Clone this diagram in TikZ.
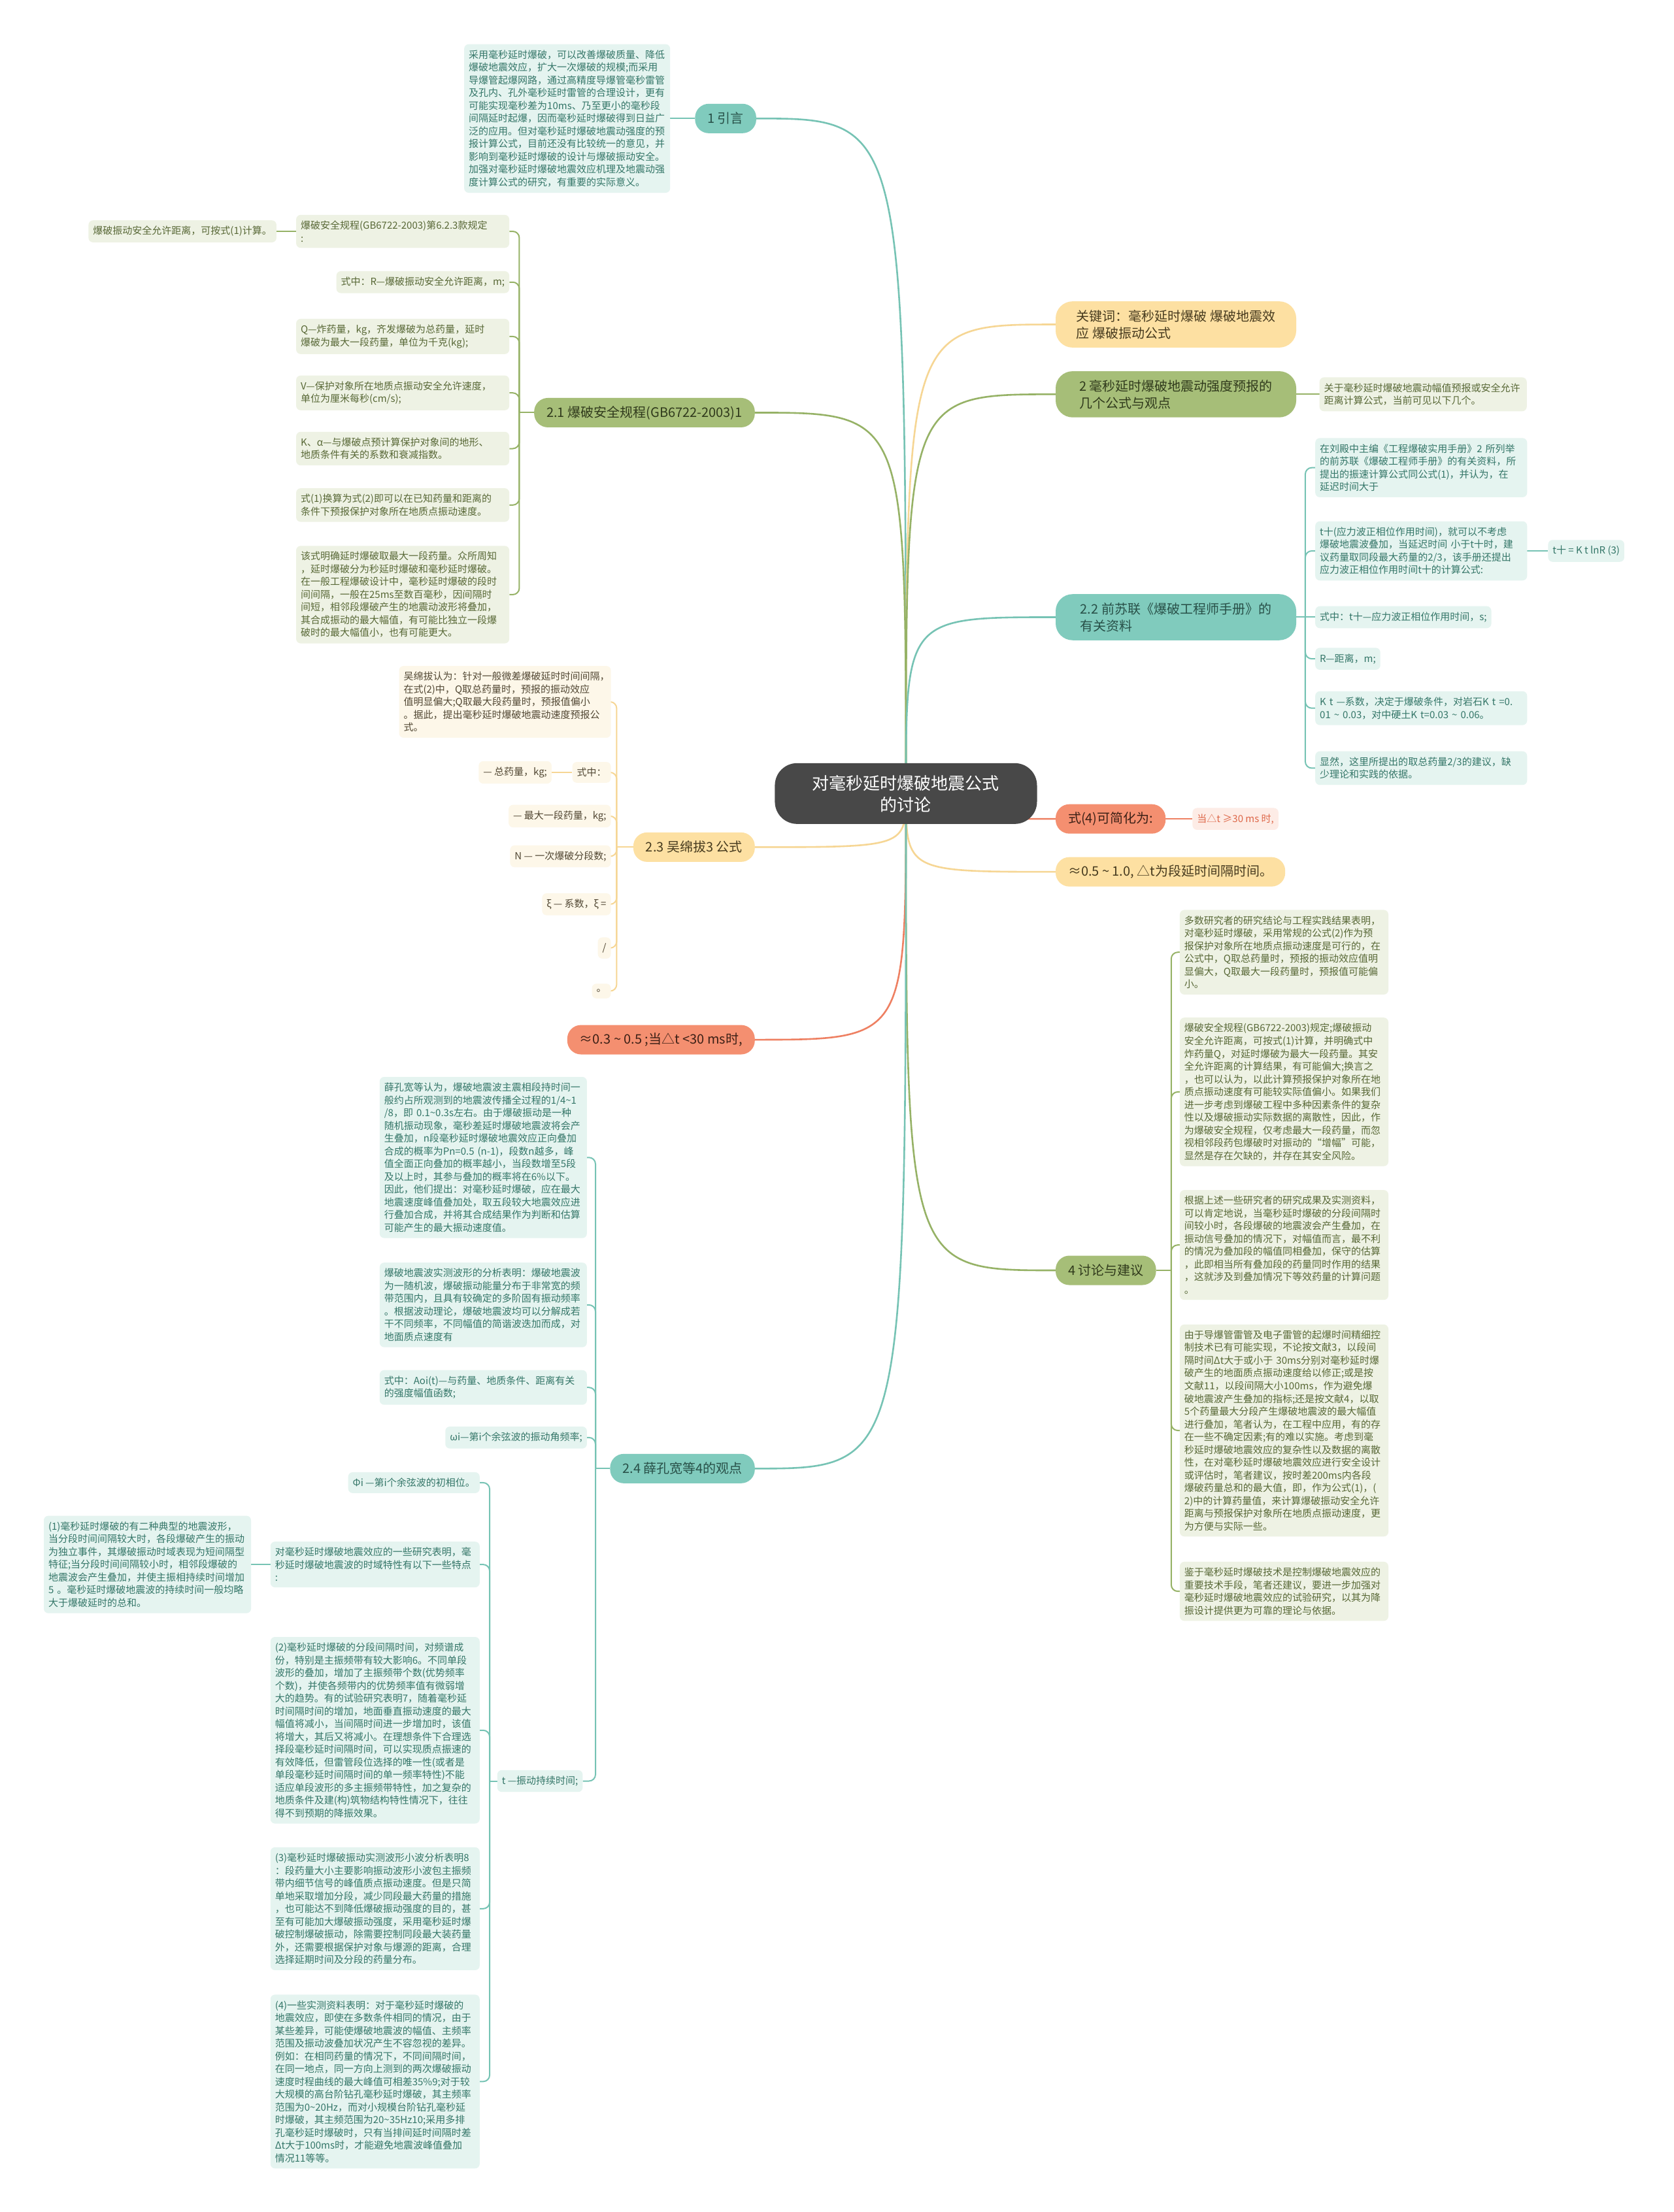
\documentclass[tikz,border=0pt]{standalone}
\usepackage{fontspec}
\setmainfont{Noto Sans CJK SC}
\usetikzlibrary{backgrounds}
\definecolor{ctrF}{RGB}{72,72,72}
\definecolor{tealF}{RGB}{128,203,189}
\definecolor{tealL}{RGB}{229,244,240}
\definecolor{tealLn}{RGB}{118,195,180}
\definecolor{tealT}{RGB}{40,80,72}
\definecolor{tealD}{RGB}{52,118,104}
\definecolor{oliveF}{RGB}{166,190,120}
\definecolor{oliveL}{RGB}{238,242,228}
\definecolor{oliveLn}{RGB}{150,178,102}
\definecolor{oliveT}{RGB}{48,58,28}
\definecolor{oliveD}{RGB}{88,104,54}
\definecolor{yelF}{RGB}{253,224,162}
\definecolor{yelL}{RGB}{253,247,233}
\definecolor{yelLn}{RGB}{246,214,148}
\definecolor{yelT}{RGB}{70,58,30}
\definecolor{yelD}{RGB}{82,72,52}
\definecolor{salF}{RGB}{244,143,112}
\definecolor{salL}{RGB}{253,236,230}
\definecolor{salLn}{RGB}{238,128,98}
\definecolor{salT}{RGB}{60,32,22}
\definecolor{salD}{RGB}{222,104,74}
\tikzset{
  ctr/.style={fill=ctrF, text=white, rounded corners=34pt, minimum width=401pt, minimum height=93pt, inner sep=0pt, font=\fontsize{26}{33}\selectfont, align=center},
  mn/.style={rounded corners=21pt, inner xsep=19pt, inner ysep=0pt, minimum height=45pt, font=\fontsize{20}{26}\selectfont, align=left},
  mntwo/.style={rounded corners=26pt, inner xsep=30pt, inner ysep=13pt, minimum width=368pt, font=\fontsize{20}{26}\selectfont, align=left},
  bx/.style={rounded corners=7pt, inner xsep=7pt, inner ysep=9pt, font=\fontsize{15}{19.5}\selectfont, align=left},
  tm/.style={fill=tealF, text=tealT},
  om/.style={fill=oliveF, text=oliveT},
  ym/.style={fill=yelF, text=yelT},
  sm/.style={fill=salF, text=salT},
  tb/.style={bx, fill=tealL, text=tealD},
  ob/.style={bx, fill=oliveL, text=oliveD},
  yb/.style={bx, fill=yelL, text=yelD},
  sb/.style={bx, fill=salL, text=salD},
  tw/.style={text width=#1},
  mline/.style={draw=#1, line width=2.6pt},
  sline/.style={draw=#1, line width=2pt, rounded corners=10pt},
}
\begin{document}
\begin{tikzpicture}[x=2.1585pt,y=-2.1585pt]
\useasboundingbox (0,0) rectangle (1186,1568);

% center
\node[ctr] (C) at (642,562.5) {对毫秒延时爆破地震公式\\的讨论};

% ===== right side =====
\node[mntwo, ym, anchor=west] (kw) at (748,230) {关键词：毫秒延时爆破 爆破地震效\\应 爆破振动公式};

\node[mntwo, om, anchor=west] (s2) at (748,279.5) {2 毫秒延时爆破地震动强度预报的\\几个公式与观点};
\node[ob, tw=303pt, anchor=west] (s2a) at (935,279.5) {关于毫秒延时爆破地震动幅值预报或安全允许\\距离计算公式，当前可见以下几个。};

\node[mntwo, tm, anchor=west] (s22) at (748,437.5) {2.2 前苏联《爆破工程师手册》的\\有关资料};
\node[tb, tw=310pt, anchor=west] (s22a) at (932,331.5) {在刘殿中主编《工程爆破实用手册》2 所列举\\的前苏联《爆破工程师手册》的有关资料，所\\提出的振速计算公式同公式(1)，并认为，在\\延迟时间大于};
\node[tb, tw=310pt, anchor=west] (s22b) at (932,390.5) {t十(应力波正相位作用时间)，就可以不考虑\\爆破地震波叠加，当延迟时间 小于t十时，建\\议药量取同段最大药量的2/3，该手册还提出\\应力波正相位作用时间t十的计算公式:};
\node[tb, anchor=west] (s22b1) at (1097,390.5) {t十 = K t lnR (3)};
\node[tb, anchor=west] (s22c) at (932,437.5) {式中：t十—应力波正相位作用时间，s;};
\node[tb, anchor=west] (s22d) at (932,467) {R—距离，m;};
\node[tb, tw=310pt, anchor=west] (s22e) at (932,502) {K t —系数，决定于爆破条件，对岩石K t =0.\\01 \textasciitilde{} 0.03，对中硬土K t=0.03 \textasciitilde{} 0.06。};
\node[tb, tw=310pt, anchor=west] (s22f) at (932,544.5) {显然，这里所提出的取总药量2/3的建议，缺\\少理论和实践的依据。};

\node[mn, sm, anchor=west] (f4) at (748,580.5) {式(4)可简化为:};
\node[sb, anchor=west] (f4a) at (845,580.5) {当△t ≥30 ms 时,};

\node[mn, ym, anchor=west] (ap) at (748,618) {≈0.5 \textasciitilde{} 1.0, △t为段延时间隔时间。};

\node[mn, om, anchor=west] (s4) at (748,900.5) {4 讨论与建议};
\node[ob, tw=305pt, anchor=west] (s4a) at (836,675) {多数研究者的研究结论与工程实践结果表明，\\对毫秒延时爆破，采用常规的公式(2)作为预\\报保护对象所在地质点振动速度是可行的，在\\公式中，Q取总药量时，预报的振动效应值明\\显偏大，Q取最大一段药量时，预报值可能偏\\小。};
\node[ob, tw=305pt, anchor=west] (s4b) at (836,774) {爆破安全规程(GB6722-2003)规定;爆破振动\\安全允许距离，可按式(1)计算，并明确式中\\炸药量Q，对延时爆破为最大一段药量。其安\\全允许距离的计算结果，有可能偏大;换言之\\，也可以认为，以此计算预报保护对象所在地\\质点振动速度有可能较实际值偏小。如果我们\\进一步考虑到爆破工程中多种因素条件的复杂\\性以及爆破振动实际数据的离散性，因此，作\\为爆破安全规程，仅考虑最大一段药量，而忽\\视相邻段药包爆破时对振动的“增幅”可能，\\显然是存在欠缺的，并存在其安全风险。};
\node[ob, tw=305pt, anchor=west] (s4c) at (836,882.5) {根据上述一些研究者的研究成果及实测资料，\\可以肯定地说，当毫秒延时爆破的分段间隔时\\间较小时，各段爆破的地震波会产生叠加，在\\振动信号叠加的情况下，对幅值而言，最不利\\的情况为叠加段的幅值同相叠加，保守的估算\\，此即相当所有叠加段的药量同时作用的结果\\，这就涉及到叠加情况下等效药量的计算问题\\。};
\node[ob, tw=305pt, anchor=west] (s4d) at (836,1014) {由于导爆管雷管及电子雷管的起爆时间精细控\\制技术已有可能实现，不论按文献3，以段间\\隔时间Δt大于或小于 30ms分别对毫秒延时爆\\破产生的地面质点振动速度给以修正;或是按\\文献11，以段间隔大小100ms，作为避免爆\\破地震波产生叠加的指标;还是按文献4，以取\\5个药量最大分段产生爆破地震波的最大幅值\\进行叠加，笔者认为，在工程中应用，有的存\\在一些不确定因素;有的难以实施。考虑到毫\\秒延时爆破地震效应的复杂性以及数据的离散\\性，在对毫秒延时爆破地震效应进行安全设计\\或评估时，笔者建议，按时差200ms内各段\\爆破药量总和的最大值，即，作为公式(1)，(\\2)中的计算药量值，来计算爆破振动安全允许\\距离与预报保护对象所在地质点振动速度，更\\为方便与实际一些。};
\node[ob, tw=305pt, anchor=west] (s4e) at (836,1128) {鉴于毫秒延时爆破技术是控制爆破地震效应的\\重要技术手段，笔者还建议，要进一步加强对\\毫秒延时爆破地震效应的试验研究，以其为降\\振设计提供更为可靠的理论与依据。};

% ===== left side =====
\node[mn, tm, anchor=east] (s1) at (536,84) {1 引言};
\node[tb, tw=301pt, anchor=east] (s1a) at (475,84) {采用毫秒延时爆破，可以改善爆破质量、降低\\爆破地震效应，扩大一次爆破的规模;而采用\\导爆管起爆网路，通过高精度导爆管毫秒雷管\\及孔内、孔外毫秒延时雷管的合理设计，更有\\可能实现毫秒差为10ms、乃至更小的毫秒段\\间隔延时起爆，因而毫秒延时爆破得到日益广\\泛的应用。但对毫秒延时爆破地震动强度的预\\报计算公式，目前还没有比较统一的意见，并\\影响到毫秒延时爆破的设计与爆破振动安全。\\加强对毫秒延时爆破地震效应机理及地震动强\\度计算公式的研究，有重要的实际意义。};

\node[mn, om, anchor=east] (s21) at (535,292.5) {2.1 爆破安全规程(GB6722-2003)1};
\node[ob, tw=312pt, anchor=east] (s21a) at (361,164) {爆破安全规程(GB6722-2003)第6.2.3款规定\\:};
\node[ob, anchor=east] (s21a1) at (196,164) {爆破振动安全允许距离，可按式(1)计算。};
\node[ob, anchor=east] (s21b) at (361,200) {式中：R—爆破振动安全允许距离，m;};
\node[ob, tw=312pt, anchor=east] (s21c) at (361,238.5) {Q—炸药量，kg，齐发爆破为总药量，延时\\爆破为最大一段药量，单位为千克(kg);};
\node[ob, tw=312pt, anchor=east] (s21d) at (361,278.5) {V—保护对象所在地质点振动安全允许速度，\\单位为厘米每秒(cm/s);};
\node[ob, tw=312pt, anchor=east] (s21e) at (361,318) {K、α—与爆破点预计算保护对象间的地形、\\地质条件有关的系数和衰减指数。};
\node[ob, tw=312pt, anchor=east] (s21f) at (361,358) {式(1)换算为式(2)即可以在已知药量和距离的\\条件下预报保护对象所在地质点振动速度。};
\node[ob, tw=312pt, anchor=east] (s21g) at (361,421.5) {该式明确延时爆破取最大一段药量。众所周知\\，延时爆破分为秒延时爆破和毫秒延时爆破。\\在一般工程爆破设计中，毫秒延时爆破的段时\\间间隔，一般在25ms至数百毫秒，因间隔时\\间短，相邻段爆破产生的地震动波形将叠加，\\其合成振动的最大幅值，有可能比独立一段爆\\破时的最大幅值小，也有可能更大。};

\node[mn, ym, anchor=east] (s23) at (535,600.5) {2.3 吴绵拔3 公式};
\node[yb, tw=310pt, anchor=east] (s23a) at (433,497.5) {吴绵拔认为：针对一般微差爆破延时时间间隔，\\在式(2)中，Q取总药量时，预报的振动效应\\值明显偏大;Q取最大段药量时，预报值偏小\\。据此，提出毫秒延时爆破地震动速度预报公\\式。};
\node[yb, anchor=east] (s23b) at (433,547.5) {式中：};
\node[yb, anchor=east] (s23b1) at (391,547.5) {— 总药量，kg;};
\node[yb, anchor=east] (s23c) at (433,578.5) {— 最大一段药量，kg;};
\node[yb, anchor=east] (s23d) at (433,607) {N — 一次爆破分段数;};
\node[yb, anchor=east] (s23e) at (433,641) {ξ — 系数，ξ =};
\node[yb, anchor=east] (s23f) at (433,672) {/};
\node[yb, anchor=east] (s23g) at (433,702.5) {。};

\node[mn, sm, anchor=east] (s03) at (535,737) {≈0.3 \textasciitilde{} 0.5 ;当△t <30 ms时,};

\node[mn, tm, anchor=east] (s24) at (535,1041) {2.4 薛孔宽等4的观点};
\node[tb, tw=303pt, anchor=east] (s24a) at (416,820.5) {薛孔宽等认为，爆破地震波主震相段持时间一\\般约占所观测到的地震波传播全过程的1/4\textasciitilde{}1\\/8，即 0.1\textasciitilde{}0.3s左右。由于爆破振动是一种\\随机振动现象，毫秒差延时爆破地震波将会产\\生叠加，n段毫秒延时爆破地震效应正向叠加\\合成的概率为Pn=0.5 (n-1)，段数n越多，峰\\值全面正向叠加的概率越小，当段数增至5段\\及以上时，其参与叠加的概率将在6\%以下。\\因此，他们提出：对毫秒延时爆破，应在最大\\地震速度峰值叠加处，取五段较大地震效应进\\行叠加合成，并将其合成结果作为判断和估算\\可能产生的最大振动速度值。};
\node[tb, tw=303pt, anchor=east] (s24b) at (416,925) {爆破地震波实测波形的分析表明：爆破地震波\\为一随机波，爆破振动能量分布于非常宽的频\\带范围内，且具有较确定的多阶固有振动频率\\。根据波动理论，爆破地震波均可以分解成若\\干不同频率，不同幅值的简谐波迭加而成，对\\地面质点速度有};
\node[tb, tw=303pt, anchor=east] (s24c) at (416,983.5) {式中：Aoi(t)—与药量、地质条件、距离有关\\的强度幅值函数;};
\node[tb, anchor=east] (s24d) at (416,1019) {ωi—第i个余弦波的振动角频率;};
\node[tb, anchor=east] (s24t) at (413,1262.5) {t —振动持续时间;};

\node[tb, anchor=east] (t1) at (340,1051) {Φi —第i个余弦波的初相位。};
\node[tb, tw=306pt, anchor=east] (t2) at (340,1109) {对毫秒延时爆破地震效应的一些研究表明，毫\\秒延时爆破地震波的时域特性有以下一些特点\\:};
\node[tb, tw=303pt, anchor=east] (t2a) at (178,1109) {(1)毫秒延时爆破的有二种典型的地震波形，\\当分段时间间隔较大时，各段爆破产生的振动\\为独立事件，其爆破振动时域表现为短间隔型\\特征;当分段时间间隔较小时，相邻段爆破的\\地震波会产生叠加，并使主振相持续时间增加\\5 。毫秒延时爆破地震波的持续时间一般均略\\大于爆破延时的总和。};
\node[tb, tw=306pt, anchor=east] (t3) at (340,1226.5) {(2)毫秒延时爆破的分段间隔时间，对频谱成\\份，特别是主振频带有较大影响6。不同单段\\波形的叠加，增加了主振频带个数(优势频率\\个数)，并使各频带内的优势频率值有微弱增\\大的趋势。有的试验研究表明7，随着毫秒延\\时间隔时间的增加，地面垂直振动速度的最大\\幅值将减小，当间隔时间进一步增加时，该值\\将增大，其后又将减小。在理想条件下合理选\\择段毫秒延时间隔时间，可以实现质点振速的\\有效降低，但雷管段位选择的唯一性(或者是\\单段毫秒延时间隔时间的单一频率特性)不能\\适应单段波形的多主振频带特性，加之复杂的\\地质条件及建(构)筑物结构特性情况下，往往\\得不到预期的降振效果。};
\node[tb, tw=306pt, anchor=east] (t4) at (340,1353) {(3)毫秒延时爆破振动实测波形小波分析表明8\\：段药量大小主要影响振动波形小波包主振频\\带内细节信号的峰值质点振动速度。但是只简\\单地采取增加分段，减少同段最大药量的措施\\，也可能达不到降低爆破振动强度的目的，甚\\至有可能加大爆破振动强度，采用毫秒延时爆\\破控制爆破振动，除需要控制同段最大装药量\\外，还需要根据保护对象与爆源的距离，合理\\选择延期时间及分段的药量分布。};
\node[tb, tw=306pt, anchor=east] (t5) at (340,1475.5) {(4)一些实测资料表明：对于毫秒延时爆破的\\地震效应，即使在多数条件相同的情况，由于\\某些差异，可能使爆破地震波的幅值、主频率\\范围及振动波叠加状况产生不容忽视的差异。\\例如：在相同药量的情况下，不同间隔时间，\\在同一地点，同一方向上测到的两次爆破振动\\速度时程曲线的最大峰值可相差35\%9;对于较\\大规模的高台阶钻孔毫秒延时爆破，其主频率\\范围为0\textasciitilde{}20Hz，而对小规模台阶钻孔毫秒延\\时爆破，其主频范围为20\textasciitilde{}35Hz10;采用多排\\孔毫秒延时爆破时，只有当排间延时间隔时差\\Δt大于100ms时，才能避免地震波峰值叠加\\情况11等等。};

% ===== connectors =====
\begin{scope}[on background layer]
\fill[white] (0,0) rectangle (1186,1568);
% main branches
\draw[mline=tealLn] (C.center) .. controls (C.center |- s1.east) .. (s1.east);
\draw[mline=yelLn] (C.center) .. controls (C.center |- kw.west) .. (kw.west);
\draw[mline=oliveLn] (C.center) .. controls (C.center |- s2.west) .. (s2.west);
\draw[mline=oliveLn] (C.center) .. controls (C.center |- s21.east) .. (s21.east);
\draw[mline=tealLn] (C.center) .. controls (C.center |- s22.west) .. (s22.west);
\draw[mline=salLn] (C.center) .. controls (C.center |- f4.west) .. (f4.west);
\draw[mline=yelLn] (C.center) .. controls (C.center |- s23.east) .. (s23.east);
\draw[mline=yelLn] (C.center) .. controls (C.center |- ap.west) .. (ap.west);
\draw[mline=salLn] (C.center) .. controls (C.center |- s03.east) .. (s03.east);
\draw[mline=oliveLn] (C.center) .. controls (C.center |- s4.west) .. (s4.west);
\draw[mline=tealLn] (C.center) .. controls (C.center |- s24.east) .. (s24.east);
% single links
\draw[sline=tealLn] (s1.west) -- (s1a.east);
\draw[sline=oliveLn] (s2.east) -- (s2a.west);
\draw[sline=oliveLn] (s21a.west) -- (s21a1.east);
\draw[sline=tealLn] (s22b.east) -- (s22b1.west);
\draw[sline=salLn] (f4.east) -- (f4a.west);
\draw[sline=yelLn] (s23b.west) -- (s23b1.east);
\draw[sline=tealLn] (t2.west) -- (t2a.east);
% 2.1 group
\coordinate (p21) at (368,292.5);
\draw[sline=oliveLn] (s21.west) -- (p21);
\foreach \n in {a,b,c,d,e,f,g} \draw[sline=oliveLn] (p21) |- (s21\n.east);
% 2.2 group
\coordinate (p22) at (925,437.5);
\draw[sline=tealLn] (s22.east) -- (s22c.west);
\foreach \n in {a,b,d,e,f} \draw[sline=tealLn] (p22) |- (s22\n.west);
% 2.3 group
\coordinate (p23) at (437,600.5);
\draw[sline=yelLn] (s23.west) -- (p23);
\foreach \n in {a,b,c,d,e,f,g} \draw[sline=yelLn] (p23) |- (s23\n.east);
% 4 group
\coordinate (p4) at (830,900.5);
\draw[sline=oliveLn] (s4.east) -- (p4);
\foreach \n in {a,b,c,d,e} \draw[sline=oliveLn] (p4) |- (s4\n.west);
% 2.4 group
\coordinate (p24) at (422,1041);
\draw[sline=tealLn] (s24.west) -- (p24);
\foreach \n in {a,b,c,d,t} \draw[sline=tealLn] (p24) |- (s24\n.east);
% t group
\coordinate (pt) at (347,1262.5);
\draw[sline=tealLn] (s24t.west) -- (pt);
\foreach \n in {1,2,3,4,5} \draw[sline=tealLn] (pt) |- (t\n.east);
\end{scope}
\end{tikzpicture}
\end{document}
